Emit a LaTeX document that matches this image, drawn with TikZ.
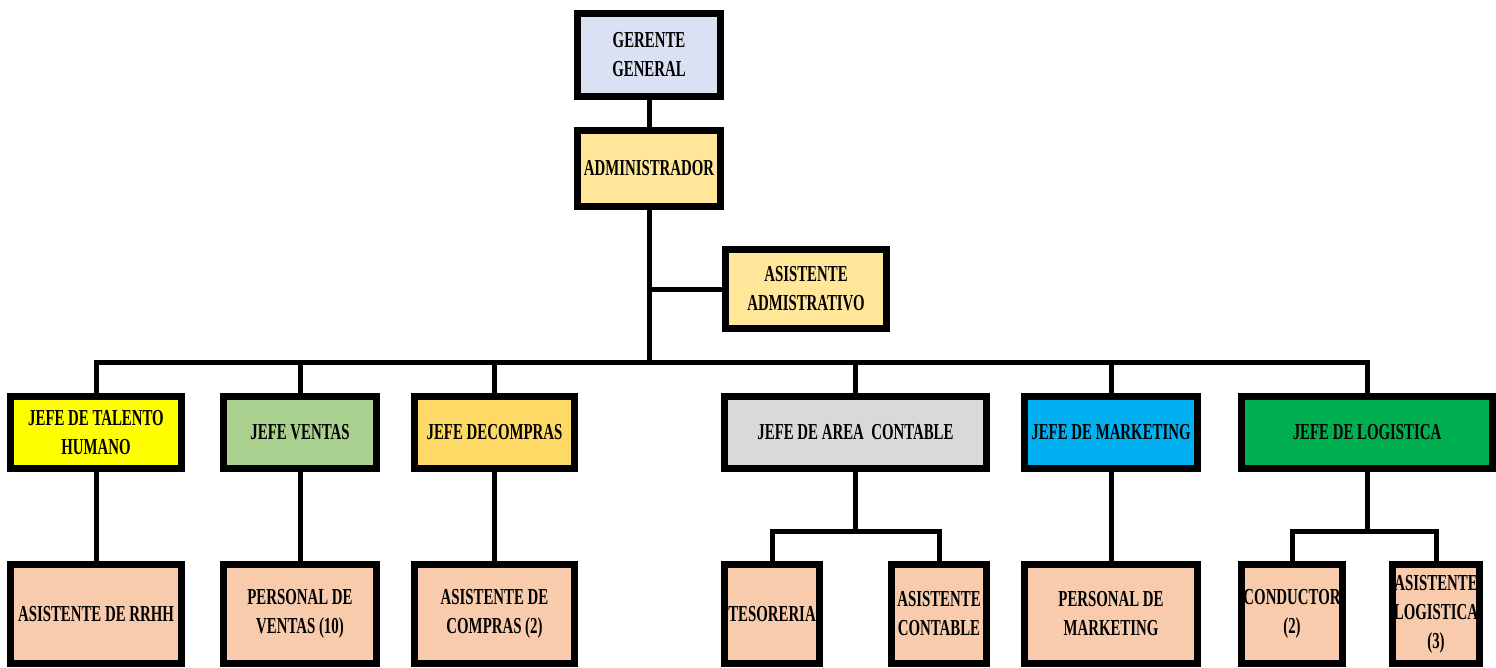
\documentclass[tikz,border=0pt]{standalone}
\usepackage{fontspec}
\setmainfont{Liberation Serif}[FakeStretch=0.65]
\usetikzlibrary{positioning}
\definecolor{lila}{HTML}{D9E1F2}
\definecolor{crema}{HTML}{FFE699}
\definecolor{amarillo}{HTML}{FFFF00}
\definecolor{verdeclaro}{HTML}{A9D08E}
\definecolor{naranja}{HTML}{FFD966}
\definecolor{gris}{HTML}{D9D9D9}
\definecolor{celeste}{HTML}{00B0F0}
\definecolor{verde}{HTML}{00B050}
\definecolor{salmon}{HTML}{F8CBAD}

\begin{document}
\begin{tikzpicture}[x=0.02cm, y=-0.02cm,
  caja/.style={draw=black, line width=0.14cm, align=center, inner sep=1pt,
    font=\bfseries\fontsize{13}{16.5}\selectfont},
  linea/.style={line width=0.1cm, line cap=rect}]
\useasboundingbox (0,0) rectangle (1496,667);

% direccion
\node[caja, fill=lila, minimum width=2.86cm, minimum height=1.68cm] (gerente) at (649,55) {GERENTE\\GENERAL};
\node[caja, fill=crema, minimum width=2.86cm, minimum height=1.52cm] (admin) at (649,168.5) {ADMINISTRADOR};
\node[caja, fill=crema, minimum width=3.22cm, minimum height=1.58cm] (asistente) at (806,289) {ASISTENTE\\ADMISTRATIVO};

% jefes
\tikzset{jefe/.style={caja, minimum height=1.44cm}}
\node[jefe, fill=amarillo, minimum width=3.42cm] (talento) at (96,432.5) {JEFE DE TALENTO\\HUMANO};
\node[jefe, fill=verdeclaro, minimum width=3.06cm] (ventas) at (300,432.5) {JEFE VENTAS};
\node[jefe, fill=naranja, minimum width=3.2cm] (compras) at (494.5,432.5) {JEFE DECOMPRAS};
\node[jefe, fill=gris, minimum width=5.24cm] (contable) at (855.5,432.5) {JEFE DE AREA\ \ CONTABLE};
\node[jefe, fill=celeste, minimum width=3.46cm] (marketing) at (1111,432.5) {JEFE DE MARKETING};
\node[jefe, fill=verde, minimum width=5.02cm] (logistica) at (1367,432.5) {JEFE DE LOGISTICA};

% personal
\tikzset{personal/.style={caja, fill=salmon, minimum height=1.98cm}}
\node[personal, minimum width=3.42cm] (rrhh) at (96,614) {ASISTENTE DE RRHH};
\node[personal, minimum width=3.06cm] (pventas) at (300,614) {PERSONAL DE\\VENTAS (10)};
\node[personal, minimum width=3.2cm] (acompras) at (494.5,614) {ASISTENTE DE\\COMPRAS (2)};
\node[personal, minimum width=1.9cm] (tesoreria) at (772,614) {TESORERIA};
\node[personal, minimum width=1.9cm] (acontable) at (939,614) {ASISTENTE\\CONTABLE};
\node[personal, minimum width=3.46cm] (pmarketing) at (1111,614) {PERSONAL DE\\MARKETING};
\node[personal, minimum width=2.02cm] (conductor) at (1292,614) {CONDUCTOR\\(2)};
\node[personal, minimum width=1.74cm] (alogistica) at (1436,614) {ASISTENTE\\LOGISTICA\\(3)};

% conectores
\coordinate (bus) at (649,362);
\coordinate (subcont) at (855.5,531);
\coordinate (sublog) at (1367,531);
\draw[linea] (gerente.south) -- (admin.north);
\draw[linea] (admin.south) -- (bus);
\draw[linea] (asistente.west) -- (asistente.west -| admin);
\draw[linea] (talento.north) |- (bus) -| (logistica.north);
\foreach \j in {ventas,compras,contable,marketing}
  \draw[linea] (\j.north) -- (\j |- bus);
\foreach \j/\k in {talento/rrhh,ventas/pventas,compras/acompras,marketing/pmarketing}
  \draw[linea] (\j.south) -- (\k.north);
\draw[linea] (contable.south) -- (subcont);
\draw[linea] (tesoreria.north) |- (subcont) -| (acontable.north);
\draw[linea] (logistica.south) -- (sublog);
\draw[linea] (conductor.north) |- (sublog) -| (alogistica.north);

\end{tikzpicture}
\end{document}
